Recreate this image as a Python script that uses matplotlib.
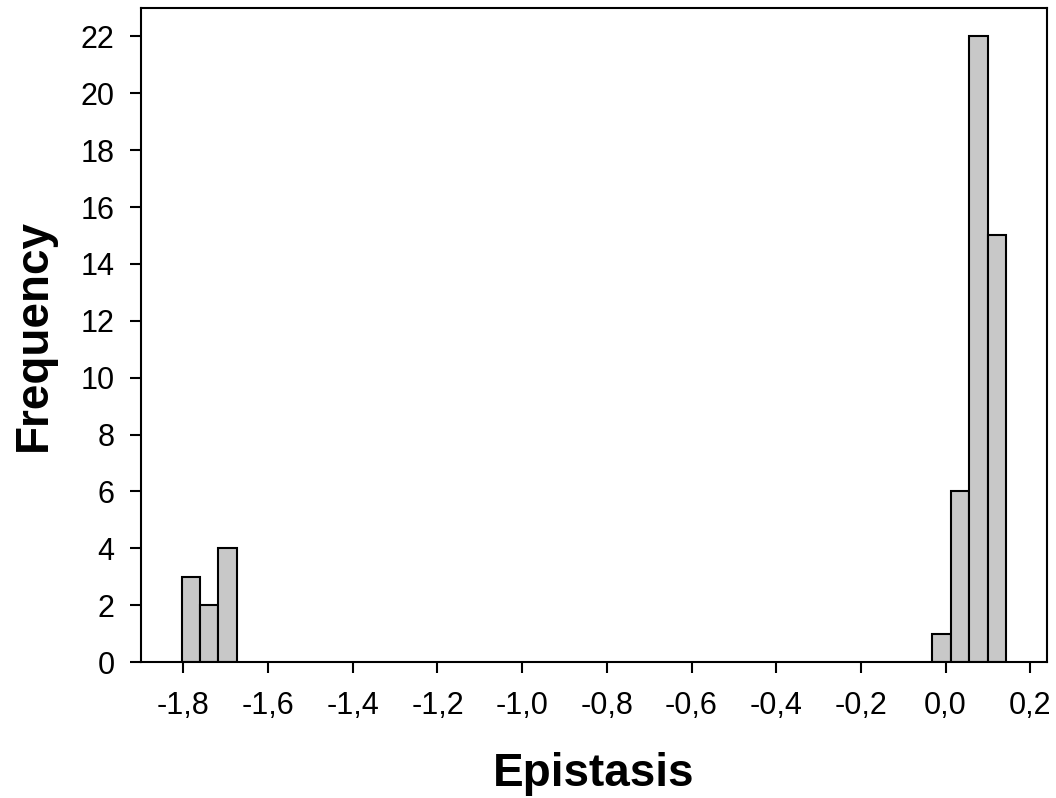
import matplotlib
matplotlib.use("Agg")
import matplotlib.pyplot as plt
import numpy as np

plt.rcParams['font.family'] = ['Liberation Sans', 'DejaVu Sans']

# Histogram bins (left edges) and counts
bin_width = 0.0433
left_group_edges = [-1.804, -1.761, -1.717]
left_group_counts = [3, 2, 4]
right_group_edges = [-0.031, 0.012, 0.056, 0.099]
right_group_counts = [1, 6, 22, 15]

x_ticks = [-1.8, -1.6, -1.4, -1.2, -1.0, -0.8, -0.6, -0.4, -0.2, 0.0, 0.2]
y_ticks = [0, 2, 4, 6, 8, 10, 12, 14, 16, 18, 20, 22]

fig = plt.figure(figsize=(10.56, 7.98), dpi=100)
ax = fig.add_axes([141/1056, 1 - 662/798, (1047-141)/1056, (662-8)/798])

edges = left_group_edges + right_group_edges
counts = left_group_counts + right_group_counts
ax.bar(edges, counts, width=bin_width, align='edge', color='#c8c8c8',
       edgecolor='black', linewidth=1.5, zorder=2)

ax.set_xlim(-1.9, 0.2394)
ax.set_ylim(0, 23)
ax.set_xticks(x_ticks)
ax.set_xticklabels([f"{v:.1f}".replace('.', ',') for v in x_ticks])
ax.set_yticks(y_ticks)
ax.set_yticklabels([str(v) for v in y_ticks])

for s in ax.spines.values():
    s.set_linewidth(1.5)
ax.tick_params(direction='out', length=8, width=1.5, labelsize=22, pad=11)
ax.tick_params(axis='x', pad=13)

ax.set_xlabel('Epistasis', fontsize=33, fontweight='bold', labelpad=22)
ax.set_ylabel('Frequency', fontsize=33, fontweight='bold', labelpad=18)

fig.savefig('out.png', dpi=100)
